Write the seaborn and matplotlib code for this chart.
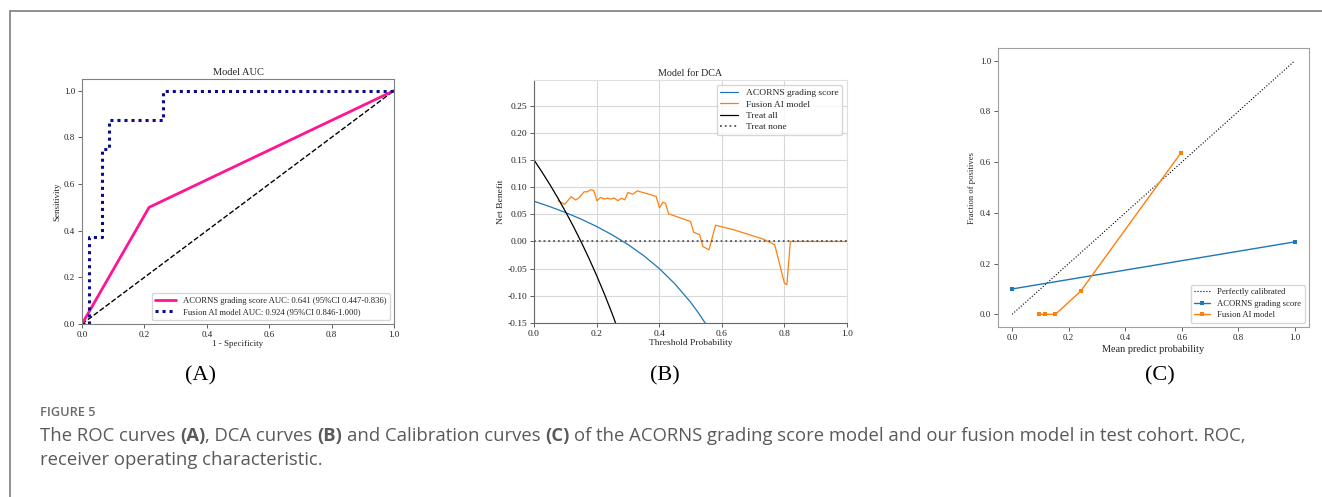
import numpy as np
import pandas as pd
import matplotlib
matplotlib.use("Agg")
import matplotlib.pyplot as plt
import seaborn as sns
from matplotlib.lines import Line2D

# ---------------- data ----------------
# (A) ROC
roc_acorns_fpr = [0.0, 0.215, 1.0]
roc_acorns_tpr = [0.0, 0.5, 1.0]
roc_fusion_fpr = [0.0, 0.0217, 0.0217, 0.0652, 0.0652, 0.087, 0.087, 0.2609, 0.2609, 1.0]
roc_fusion_tpr = [0.0, 0.0, 0.375, 0.375, 0.75, 0.75, 0.875, 0.875, 1.0, 1.0]
roc_labels = ["ACORNS grading score AUC: 0.641 (95%CI 0.447-0.836)",
              "Fusion AI model AUC: 0.924 (95%CI 0.846-1.000)"]

# (B) DCA
dca_acorns_pt = [0.0, 0.05, 0.10, 0.15, 0.20, 0.25, 0.30, 0.35, 0.40, 0.45, 0.50, 0.525, 0.55]
dca_acorns_nb = [0.074, 0.0642, 0.0534, 0.0412, 0.0276, 0.0121, -0.0055, -0.0259,
                 -0.0497, -0.0779, -0.1116, -0.1311, -0.1528]
dca_fusion_pt = [0.077, 0.098, 0.119, 0.133, 0.144, 0.160, 0.170, 0.182, 0.191, 0.201,
                 0.213, 0.224, 0.234, 0.245, 0.256, 0.268, 0.279, 0.290, 0.300, 0.316,
                 0.330, 0.370, 0.390, 0.401, 0.412, 0.420, 0.430, 0.500, 0.510, 0.529,
                 0.540, 0.559, 0.580, 0.636, 0.689, 0.732, 0.769, 0.800, 0.808, 0.819, 1.0]
dca_fusion_nb = [0.0750, 0.0683, 0.0825, 0.0763, 0.0803, 0.0913, 0.0913, 0.0953, 0.0935, 0.0748,
                 0.0810, 0.0780, 0.0796, 0.0780, 0.0800, 0.0750, 0.0796, 0.0766, 0.0900, 0.0870,
                 0.0930, 0.0865, 0.0828, 0.0620, 0.0722, 0.0705, 0.0508, 0.0368, 0.0170, 0.0123,
                 -0.0095, -0.0153, 0.0298, 0.0218, 0.0123, 0.0044, -0.0060, -0.0765, -0.0796, 0.0, 0.0]
dca_all_pt = [0.0, 0.025, 0.05, 0.075, 0.10, 0.125, 0.15, 0.175, 0.20, 0.225, 0.25, 0.275]
dca_all_nb = [0.15, 0.1282, 0.1053, 0.0811, 0.0556, 0.0286, 0.0, -0.0303, -0.0625,
              -0.0968, -0.1333, -0.1724]
dca_none_pt = [0.0, 1.0]
dca_none_nb = [0.0, 0.0]
dca_labels = ["ACORNS grading score", "Fusion AI model", "Treat all", "Treat none"]

# (C) Calibration
cal_perfect_x = [0.0, 1.0]
cal_perfect_y = [0.0, 1.0]
cal_acorns_x = [0.0, 1.0]
cal_acorns_y = [0.1, 0.2857]
cal_fusion_x = [0.095, 0.118, 0.153, 0.242, 0.597]
cal_fusion_y = [0.0, 0.0, 0.0, 0.0909, 0.6364]
cal_labels = ["Perfectly calibrated", "ACORNS grading score", "Fusion AI model"]

panel_letters = ["(A)", "(B)", "(C)"]
fig_label = "FIGURE 5"
caption_pieces = [("The ROC curves", False, True), ("(A)", True, False),
                  (", DCA curves", False, True), ("(B)", True, True),
                  ("and Calibration curves", False, True), ("(C)", True, True),
                  ("of the ACORNS grading score model and our fusion model in test cohort. ROC,", False, False)]
caption_line2 = "receiver operating characteristic."

# ---------------- style ----------------
sns.set_theme(style="white")
plt.rcParams['font.family'] = ['Liberation Serif', 'DejaVu Serif']
plt.rcParams['axes.unicode_minus'] = False

W, H = 1322, 497
fig = plt.figure(figsize=(W / 100, H / 100), dpi=100)
fig.patch.set_facecolor("white")


def px_axes(left, top, right, bottom):
    return fig.add_axes([left / W, 1 - bottom / H, (right - left) / W, (bottom - top) / H])


def style_ticks(ax, fs):
    ax.tick_params(axis='both', which='major', direction='out', length=3, width=0.6,
                   color='#444444', labelsize=fs, pad=2, bottom=True, left=True)
    for lab in ax.get_xticklabels() + ax.get_yticklabels():
        lab.set_color('#222222')


# ---------------- (A) ROC ----------------
axA = px_axes(82, 79, 394, 324)
sns.lineplot(x=[0, 1], y=[0, 1], ax=axA, color='black', linestyle='--', linewidth=1.0,
             estimator=None, sort=False)
sns.lineplot(x=roc_acorns_fpr, y=roc_acorns_tpr, ax=axA, color='#FF1493', linewidth=2.0,
             estimator=None, sort=False, label=roc_labels[0])
sns.lineplot(x=roc_fusion_fpr, y=roc_fusion_tpr, ax=axA, color='#0a0a8a', linewidth=2.2,
             linestyle=(0, (1, 1.3)), estimator=None, sort=False, label=roc_labels[1])
axA.set_xlim(0, 1)
axA.set_ylim(0, 1.05)
axA.set_xticks(np.arange(0, 1.01, 0.2))
axA.set_yticks(np.arange(0, 1.01, 0.2))
axA.set_title("Model AUC", fontsize=7.5, pad=3)
axA.set_xlabel("1 - Specificity", fontsize=6.5, labelpad=1)
axA.set_ylabel("Sensitivity", fontsize=6.5, labelpad=2)
for s in axA.spines.values():
    s.set_color('#808080'); s.set_linewidth(0.8)
style_ticks(axA, 6.5)
legA = axA.legend(loc='lower right', fontsize=6.2, frameon=True, handlelength=2.4,
                  borderpad=0.4, labelspacing=0.4)
legA.get_frame().set_edgecolor('#cccccc')

# ---------------- (B) DCA ----------------
axB = px_axes(534, 80, 847, 323)
sns.lineplot(x=dca_acorns_pt, y=dca_acorns_nb, ax=axB, color='#1f77b4', linewidth=0.9,
             estimator=None, sort=False, label=dca_labels[0])
sns.lineplot(x=dca_fusion_pt, y=dca_fusion_nb, ax=axB, color='#ff7f0e', linewidth=0.9,
             estimator=None, sort=False, label=dca_labels[1])
sns.lineplot(x=dca_all_pt, y=dca_all_nb, ax=axB, color='black', linewidth=0.9,
             estimator=None, sort=False, label=dca_labels[2])
sns.lineplot(x=dca_none_pt, y=dca_none_nb, ax=axB, color='#555555', linewidth=1.3,
             linestyle=':', estimator=None, sort=False, label=dca_labels[3])
axB.set_xlim(0, 1)
axB.set_ylim(-0.15, 0.297)
axB.set_xticks(np.arange(0, 1.01, 0.2))
yt = np.round(np.arange(-0.15, 0.26, 0.05), 2)
axB.set_yticks(yt)
axB.set_yticklabels([f"{v:.2f}" for v in yt])
axB.grid(True, color='#d8d8d8', linewidth=0.8)
axB.set_axisbelow(True)
axB.set_title("Model for DCA", fontsize=7.2, pad=3)
axB.set_xlabel("Threshold Probability", fontsize=6.8, labelpad=1)
axB.set_ylabel("Net Benefit", fontsize=6.8, labelpad=2)
axB.spines['left'].set_color('#666666'); axB.spines['bottom'].set_color('#666666')
axB.spines['top'].set_color('#e0e0e0'); axB.spines['right'].set_color('#e0e0e0')
for s in axB.spines.values():
    s.set_linewidth(0.8)
style_ticks(axB, 6.8)
legB = axB.legend(loc='upper right', fontsize=6.8, frameon=True, handlelength=1.9,
                  borderpad=0.4, labelspacing=0.3)
legB.get_frame().set_edgecolor('#cccccc')

# ---------------- (C) Calibration ----------------
axC = px_axes(998, 48, 1309, 327)
sns.lineplot(x=cal_perfect_x, y=cal_perfect_y, ax=axC, color='black', linestyle=':',
             linewidth=0.8, estimator=None, sort=False, label=cal_labels[0])
sns.lineplot(x=cal_acorns_x, y=cal_acorns_y, ax=axC, color='#1f77b4', linewidth=1.0,
             marker='s', markersize=3.5, markeredgewidth=0, estimator=None, sort=False,
             label=cal_labels[1])
sns.lineplot(x=cal_fusion_x, y=cal_fusion_y, ax=axC, color='#ff7f0e', linewidth=1.0,
             marker='s', markersize=3.5, markeredgewidth=0, estimator=None, sort=False,
             label=cal_labels[2])
axC.set_xlim(-0.05, 1.05)
axC.set_ylim(-0.05, 1.05)
axC.set_xticks(np.arange(0, 1.01, 0.2))
axC.set_yticks(np.arange(0, 1.01, 0.2))
axC.set_xlabel("Mean predict probability", fontsize=7.4, labelpad=2)
axC.set_ylabel("Fraction of positives", fontsize=6.2, labelpad=3)
for s in axC.spines.values():
    s.set_color('#a0a0a0'); s.set_linewidth(0.8)
style_ticks(axC, 6.3)
legC = axC.legend(loc='lower right', fontsize=6.2, frameon=True, handlelength=1.9,
                  borderpad=0.4, labelspacing=0.4)
legC.get_frame().set_edgecolor('#cccccc')

# ---------------- panel letters ----------------
for lab, xc in zip(panel_letters, [200, 665, 1160]):
    fig.text(xc / W, 1 - 376 / H, lab, ha='center', va='center', fontsize=16,
             family=['Liberation Serif', 'DejaVu Serif'], color='black')

# ---------------- frame ----------------
fig.add_artist(Line2D([10 / W, 1.0], [1 - 11 / H, 1 - 11 / H], transform=fig.transFigure,
                      color='#888888', linewidth=1.3))
fig.add_artist(Line2D([10 / W, 10 / W], [1 - 11 / H, 0.0], transform=fig.transFigure,
                      color='#888888', linewidth=1.3))

# ---------------- caption ----------------
cap_family = ['Open Sans', 'DejaVu Sans']
cap_fs = 13.3
cap_color = '#5a5a5a'
fig.text(40 / W, 1 - 412 / H, fig_label, ha='left', va='center', fontsize=9.2,
         family=cap_family, color='#6a6a6a', weight='semibold')

renderer = fig.canvas.get_renderer()


def text_w(s, bold):
    t = fig.text(0, 0, s, fontsize=cap_fs, family=cap_family,
                 weight='bold' if bold else 'normal')
    w = t.get_window_extent(renderer).width
    t.remove()
    return w


space_w = text_w("x x", False) - text_w("xx", False)
xpix = 40
y1 = 1 - 436 / H
for txt, bold, sp in caption_pieces:
    fig.text(xpix / W, y1, txt, ha='left', va='center', fontsize=cap_fs, family=cap_family,
             color=cap_color, weight='bold' if bold else 'normal')
    xpix += text_w(txt, bold) + (space_w if sp else 0)
fig.text(40 / W, 1 - 460 / H, caption_line2, ha='left', va='center', fontsize=cap_fs,
         family=cap_family, color=cap_color)

fig.savefig("out.png", dpi=100, facecolor='white')
